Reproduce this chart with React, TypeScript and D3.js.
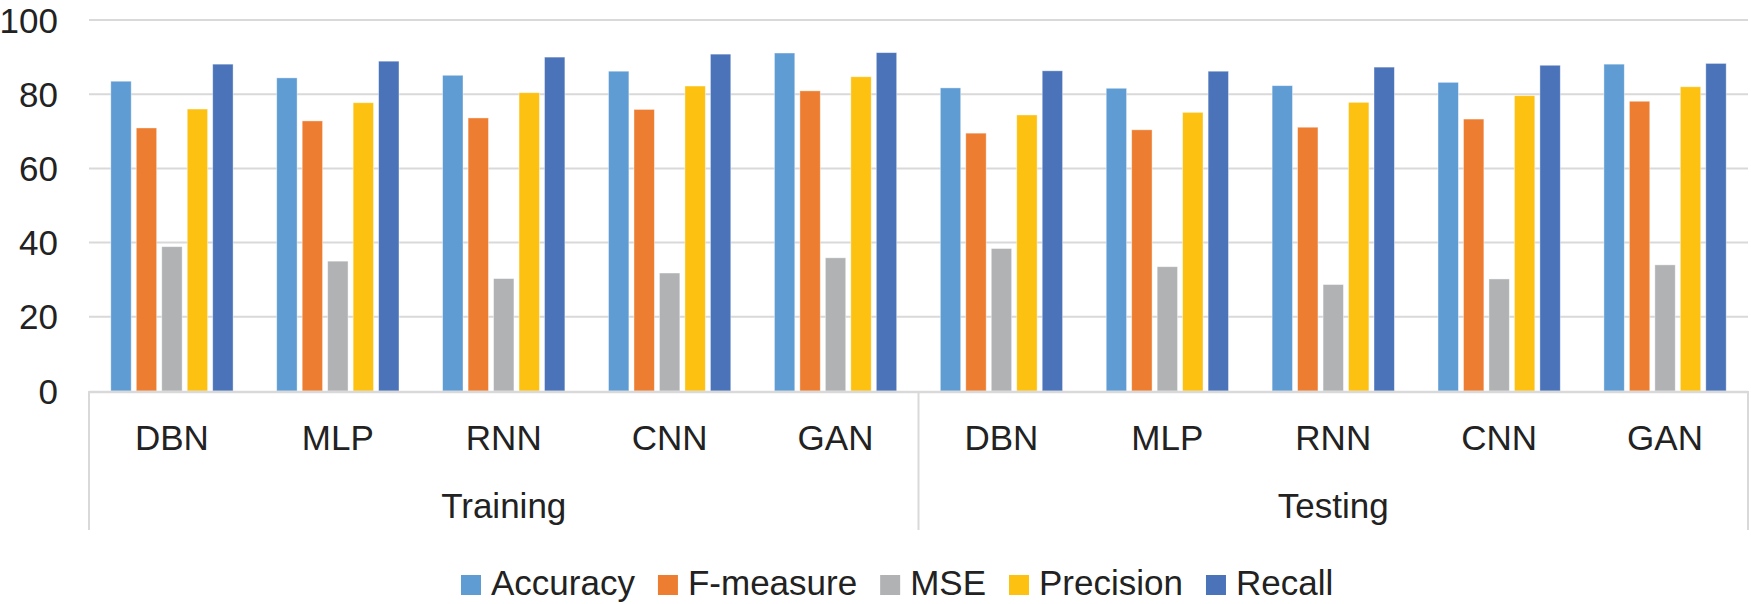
import { useEffect, useRef } from 'react';
import * as d3 from 'd3';

const groups = ['Training', 'Testing'];
const models = ['DBN', 'MLP', 'RNN', 'CNN', 'GAN'];
const seriesNames = ['Accuracy', 'F-measure', 'MSE', 'Precision', 'Recall'];
const seriesColors = ['#5E9CD3', '#ED7D31', '#B1B2B4', '#FDC112', '#4A73B9'];

// values per model, Training then Testing
const accuracy = [83.5, 84.4, 85.1, 86.2, 91.1, 81.7, 81.6, 82.3, 83.2, 88.1];
const fMeasure = [70.9, 72.8, 73.6, 75.9, 80.9, 69.5, 70.4, 71.1, 73.3, 78.1];
const mse = [38.9, 35.0, 30.3, 31.8, 35.9, 38.4, 33.5, 28.7, 30.2, 34.0];
const precision = [76.0, 77.7, 80.4, 82.2, 84.7, 74.4, 75.1, 77.8, 79.6, 82.0];
const recall = [88.1, 88.9, 90.0, 90.8, 91.2, 86.3, 86.2, 87.3, 87.8, 88.3];

const yTicks = [0, 20, 40, 60, 80, 100];

export default function App() {
  const svgRef = useRef<SVGSVGElement>(null);

  useEffect(() => {
    if (!svgRef.current) return;
    const svg = d3.select(svgRef.current);
    svg.selectAll('*').remove();

    const width = 1751;
    const height = 604;
    const left = 89;
    const right = 1748;
    const top = 20;
    const bottom = 391;
    const font = '"Liberation Sans", Arial, sans-serif';
    const textColor = '#222222';
    const lineColor = '#D9D9D9';

    svg.attr('width', width).attr('height', height);

    const allSeries = [accuracy, fMeasure, mse, precision, recall];
    const categories = groups.flatMap((g) => models.map((m) => `${g}|${m}`));

    const x0 = d3
      .scaleBand<string>()
      .domain(categories)
      .range([left, right])
      .paddingInner(0.263)
      .paddingOuter(0.1315);

    const x1 = d3
      .scaleBand<string>()
      .domain(seriesNames)
      .range([0, x0.bandwidth()])
      .paddingInner(0.2)
      .paddingOuter(0);

    const y = d3.scaleLinear().domain([0, 100]).range([bottom, top]);

    // grid lines
    svg
      .append('g')
      .selectAll('line')
      .data(yTicks.filter((t) => t > 0))
      .enter()
      .append('line')
      .attr('x1', left)
      .attr('x2', right)
      .attr('y1', (d) => y(d))
      .attr('y2', (d) => y(d))
      .attr('stroke', lineColor)
      .attr('stroke-width', 2);

    // y tick labels
    svg
      .append('g')
      .selectAll('text')
      .data(yTicks)
      .enter()
      .append('text')
      .attr('x', 58)
      .attr('y', (d) => y(d))
      .attr('dy', '0.36em')
      .attr('text-anchor', 'end')
      .attr('font-family', font)
      .attr('font-size', 35)
      .attr('fill', textColor)
      .text((d) => d);

    // bars
    const cat = svg
      .append('g')
      .selectAll('g')
      .data(categories)
      .enter()
      .append('g')
      .attr('transform', (d) => `translate(${x0(d)},0)`);

    cat
      .selectAll('rect')
      .data((_, i) => seriesNames.map((s, j) => ({ s, v: allSeries[j][i], c: seriesColors[j] })))
      .enter()
      .append('rect')
      .attr('x', (d) => x1(d.s) as number)
      .attr('width', x1.bandwidth())
      .attr('y', (d) => y(d.v))
      .attr('height', (d) => bottom - y(d.v))
      .attr('fill', (d) => d.c)
      .attr('stroke', '#ffffff')
      .attr('stroke-opacity', 0.5)
      .attr('stroke-width', 0.8);

    // x axis line
    svg
      .append('line')
      .attr('x1', left)
      .attr('x2', right)
      .attr('y1', bottom + 1)
      .attr('y2', bottom + 1)
      .attr('stroke', lineColor)
      .attr('stroke-width', 2.5);

    // group separators
    const groupWidth = (right - left) / groups.length;
    const seps = d3.range(groups.length + 1).map((i) => left + i * groupWidth);
    svg
      .append('g')
      .selectAll('line')
      .data(seps)
      .enter()
      .append('line')
      .attr('x1', (d) => d)
      .attr('x2', (d) => d)
      .attr('y1', bottom)
      .attr('y2', 530)
      .attr('stroke', lineColor)
      .attr('stroke-width', 2);

    // model labels
    svg
      .append('g')
      .selectAll('text')
      .data(categories)
      .enter()
      .append('text')
      .attr('x', (d) => (x0(d) as number) + x0.bandwidth() / 2)
      .attr('y', 450)
      .attr('text-anchor', 'middle')
      .attr('font-family', font)
      .attr('font-size', 35)
      .attr('fill', textColor)
      .text((d) => d.split('|')[1]);

    // group labels
    svg
      .append('g')
      .selectAll('text')
      .data(groups)
      .enter()
      .append('text')
      .attr('x', (_, i) => left + (i + 0.5) * groupWidth)
      .attr('y', 518)
      .attr('text-anchor', 'middle')
      .attr('font-family', font)
      .attr('font-size', 35)
      .attr('fill', textColor)
      .text((d) => d);

    // legend
    const legend = svg.append('g').attr('transform', 'translate(461,575)');
    let offset = 0;
    seriesNames.forEach((name, i) => {
      const item = legend.append('g').attr('transform', `translate(${offset},0)`);
      item.append('rect').attr('width', 20).attr('height', 20).attr('fill', seriesColors[i]);
      const label = item
        .append('text')
        .attr('x', 30)
        .attr('y', 20)
        .attr('font-family', font)
        .attr('font-size', 35)
        .attr('fill', textColor)
        .text(name);
      const w = (label.node() as SVGTextElement).getComputedTextLength();
      offset += 30 + w + 23;
    });
  }, []);

  return (
    <svg
      ref={svgRef}
      style={{ position: 'absolute', left: 0, top: 0, background: '#ffffff' }}
    />
  );
}
